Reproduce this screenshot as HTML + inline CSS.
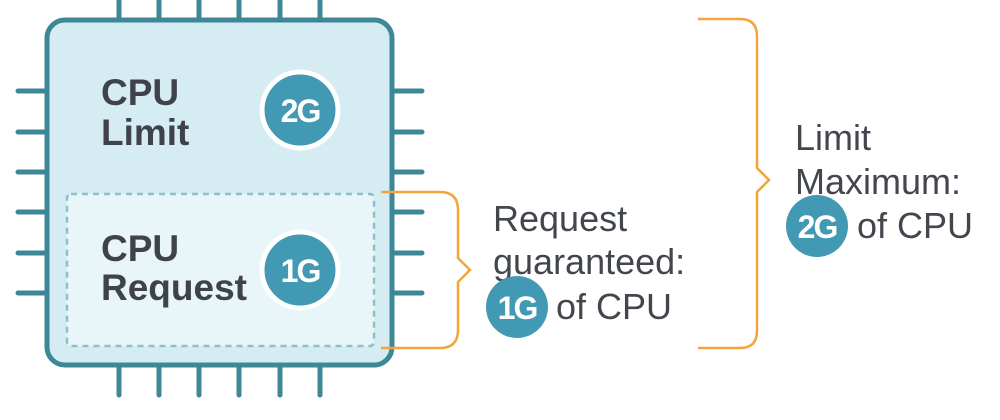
<!DOCTYPE html>
<html><head><meta charset="utf-8"><style>
html,body{margin:0;padding:0;background:#fff;}
svg{display:block}
text{font-family:"Liberation Sans",sans-serif;}
</style></head><body>
<svg width="1000" height="420" viewBox="0 0 1000 420" xmlns="http://www.w3.org/2000/svg">
<g stroke="#3d8797" stroke-width="5" stroke-linecap="round">
<line x1="119" y1="0" x2="119" y2="20"/><line x1="159" y1="0" x2="159" y2="20"/><line x1="199" y1="0" x2="199" y2="20"/><line x1="239" y1="0" x2="239" y2="20"/><line x1="280" y1="0" x2="280" y2="20"/><line x1="320" y1="0" x2="320" y2="20"/>
<line x1="119" y1="365" x2="119" y2="395"/><line x1="159" y1="365" x2="159" y2="395"/><line x1="199" y1="365" x2="199" y2="395"/><line x1="239" y1="365" x2="239" y2="395"/><line x1="280" y1="365" x2="280" y2="395"/><line x1="320" y1="365" x2="320" y2="395"/>
<line x1="18" y1="91" x2="47" y2="91"/><line x1="18" y1="132" x2="47" y2="132"/><line x1="18" y1="172" x2="47" y2="172"/><line x1="18" y1="212" x2="47" y2="212"/><line x1="18" y1="253" x2="47" y2="253"/><line x1="18" y1="293" x2="47" y2="293"/>
<line x1="392" y1="91" x2="422" y2="91"/><line x1="392" y1="132" x2="422" y2="132"/><line x1="392" y1="172" x2="422" y2="172"/><line x1="392" y1="212" x2="422" y2="212"/><line x1="392" y1="253" x2="422" y2="253"/><line x1="392" y1="293" x2="422" y2="293"/>
</g>
<rect x="47" y="20" width="345" height="345" rx="18" fill="#d5ecf2" stroke="#3d8797" stroke-width="5"/>
<rect x="67" y="194" width="307" height="152" rx="4" fill="#e8f5f9" stroke="#8fc0ca" stroke-width="2.5" stroke-dasharray="6 5"/>
<text x="101" y="105" font-size="37" font-weight="bold" fill="#3f4349">CPU</text>
<text x="101" y="145" font-size="37" font-weight="bold" fill="#3f4349">Limit</text>
<text x="101" y="261" font-size="37" font-weight="bold" fill="#3f4349">CPU</text>
<text x="101" y="300" font-size="37" font-weight="bold" fill="#3f4349">Request</text>
<circle cx="300" cy="110" r="38" fill="#4299b3" stroke="#fff" stroke-width="5"/>
<text x="300" y="122" font-size="32" font-weight="bold" fill="#fff" text-anchor="middle" letter-spacing="-2">2G</text>
<circle cx="300" cy="270" r="38" fill="#4299b3" stroke="#fff" stroke-width="5"/>
<text x="300" y="282" font-size="32" font-weight="bold" fill="#fff" text-anchor="middle" letter-spacing="-2">1G</text>
<g fill="none" stroke="#f4a43a" stroke-width="2.5">
<path d="M381 192 H440 Q458 192 458 210 V258 L470 270 L458 282 V330 Q458 348 440 348 H381"/>
<path d="M698 19 H740 Q757 19 757 36 V168 L769 180 L757 192 V331 Q757 348 740 348 H698"/>
</g>
<g font-size="36" fill="#43474d">
<text x="493" y="231">Request</text>
<text x="493" y="274">guaranteed:</text>
<text x="556" y="319">of CPU</text>
<text x="795" y="150">Limit</text>
<text x="795" y="194">Maximum:</text>
<text x="857" y="238">of CPU</text>
</g>
<circle cx="517" cy="307" r="31" fill="#4299b3"/>
<text x="517" y="319" font-size="32" font-weight="bold" fill="#fff" text-anchor="middle" letter-spacing="-2">1G</text>
<circle cx="817" cy="226" r="31" fill="#4299b3"/>
<text x="817" y="238" font-size="32" font-weight="bold" fill="#fff" text-anchor="middle" letter-spacing="-2">2G</text>
</svg>
</body></html>
